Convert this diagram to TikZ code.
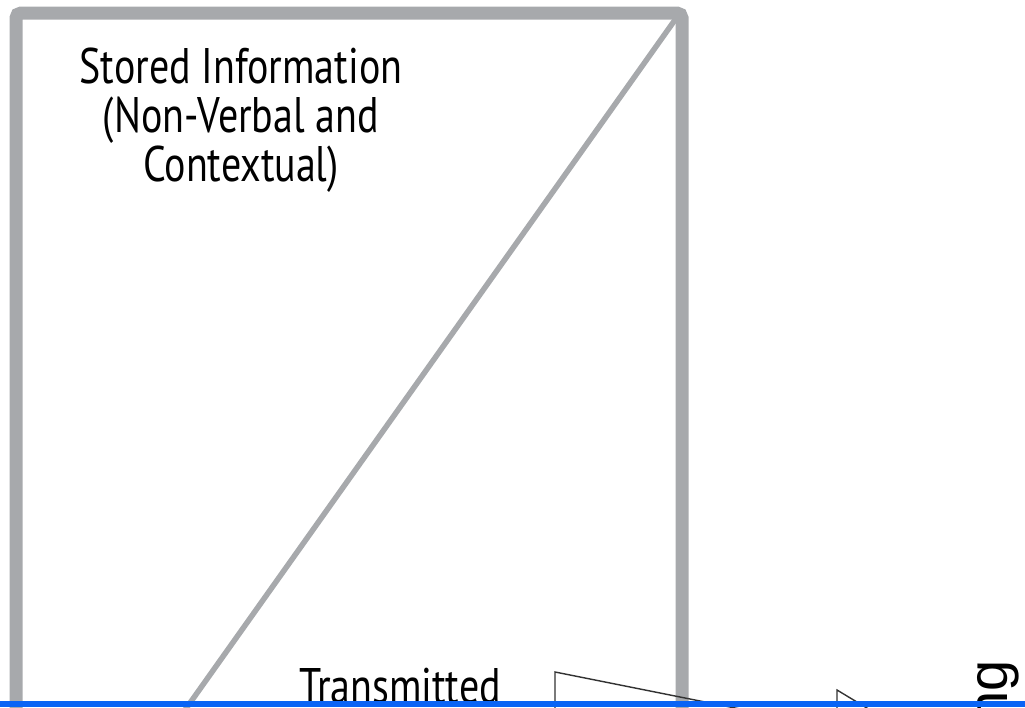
\documentclass[tikz,border=0pt]{standalone}
\usepackage{fontspec}
\setmainfont[FakeStretch=0.8]{PT Sans}
\newfontfamily\sidefont{Liberation Sans}
\usetikzlibrary{arrows}
\definecolor{framegray}{RGB}{167,169,172}
\definecolor{barblue}{RGB}{10,100,245}

\begin{document}
\begin{tikzpicture}[x=1pt,y=-1pt,
                    frame/.style={draw=framegray,line width=13pt,rounded corners=5pt},
                    split/.style={draw=framegray,line width=5.5pt},
                    flow/.style={draw=black!80,line width=1.4pt},
                    caption/.style={align=center,inner sep=0pt,font=\fontsize{50}{49}\selectfont}]

  \useasboundingbox (0,0) rectangle (1025,707);
  \clip (0,0) rectangle (1025,707);

  % store box, cut off below
  \coordinate (TL) at (16,13);
  \coordinate (BR) at (682,800);
  \draw[frame] (TL) rectangle (BR);

  \coordinate (corner) at (677,17);
  \coordinate (foot)   at (185,710);
  \draw[split] (corner) -- (foot);

  \node[caption,anchor=base] (stored) at (241,181)
        {Stored Information\\(Non-Verbal and\\Contextual)};
  \node[caption,anchor=base] (sent)   at (400,703) {Transmitted};

  % flow shapes
  \coordinate (A0) at (555,720);
  \coordinate (A1) at (555,672);
  \coordinate (A2) at (1025,766);
  \draw[flow] (A0) -- (A1) -- (A2);

  \coordinate (B0) at (837,720);
  \coordinate (B1) at (837,690);
  \coordinate (B2) at (900,728);
  \draw[flow] (B0) -- (B1) -- (B2);

  \node[rotate=90,anchor=base east,inner sep=0pt,
        font=\sidefont\fontsize{56}{56}\selectfont] (side) at (1007,660) {ng};

  \fill[barblue] (0,701) rectangle (1025,707);

\end{tikzpicture}
\end{document}
